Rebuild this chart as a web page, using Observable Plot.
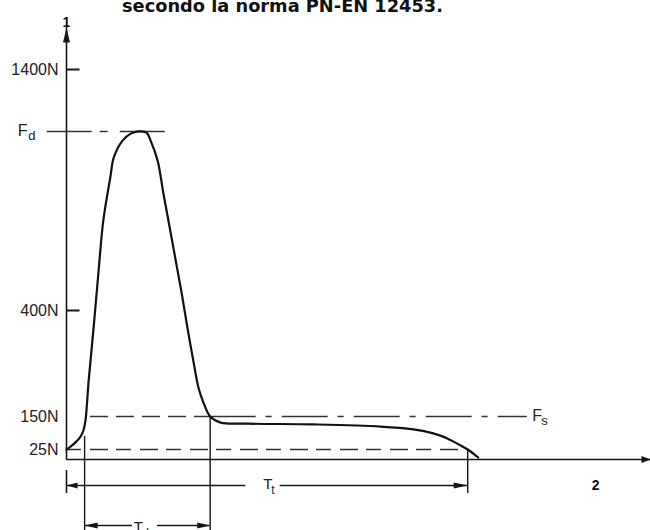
<!DOCTYPE html>
<html><head><meta charset="utf-8">
<script src="https://cdn.jsdelivr.net/npm/d3@7"></script>
<script src="https://cdn.jsdelivr.net/npm/@observablehq/plot@0.6"></script>
<style>
html,body{margin:0;padding:0;background:#fff;}
#wrap{position:relative;width:650px;height:530px;overflow:hidden;background:#fff;}
#wrap svg{position:absolute;left:0;top:0;}
#title{position:absolute;left:122px;top:-3px;font:bold 17.8px "DejaVu Sans";color:#111;white-space:nowrap;line-height:17px;z-index:2;}
</style></head><body>
<div id="wrap"><div id="title">secondo la norma PN-EN 12453.</div></div>
<script>
// force–time curve (time in arbitrary units, force in N)
const time  = [0, 0.7, 1.5, 2.4, 2.9, 3.25, 3.8, 4.6, 5.5, 6.3, 7.5, 8.1, 9.6, 11.0, 12.3, 13.7, 14.4, 15.6, 16.6, 18.3, 19.7, 20.7, 21.8, 22.6, 23.5, 24.6, 26.4, 31.0, 42.3, 53.8, 59.4, 62.8, 65.2, 67.5, 68.7, 70.5];
const force = [25, 36, 51, 74, 97, 135, 235, 353, 566, 773, 952, 1035, 1105, 1134, 1143, 1138, 1105, 1022, 885, 661, 475, 360, 275, 218, 181, 150, 127, 123, 120, 112, 101, 86, 67, 40, 25, 5];

const yTicks = [25, 150, 400, 1400];
const yTickMarks = [400, 1400];
const tickLabel = d => d + "N";
const Fd = 1143, Fs = 150, Fmin = 25;
const tdStart = 3.1, tdEnd = 24.6, ttEnd = 68.7;
const xEnd = 100, yTop = 1574;
const fdFrom = -3.3, fdTo = 17, fsFrom = 4.1, fsEnd = 78.9;
// rows below the time axis for dimension lines (in force units of the schematic)
const ttRow = -65, tdRow = -165, ttBarTop = -27.5, ttBarBot = -85, dimBottom = -180;
const ttLabelT = 33.7, ttGap = [30.7, 36.6];
const tdLabelT = 11.5, tdGap = [11.3, 15.6];
const axisLabels = [{t: 0, f: yTop, s: "1"}, {t: 90.6, f: ttRow, s: "2"}];

// the schematic's force axis is not to scale: piecewise-linear breakpoints
const forceBreaks = [0, 25, 150, 400, 1400];
const drawnHeight = [0, 10, 43, 149, 390];
const squash = d3.scaleLinear().domain(forceBreaks).range(drawnHeight);

const data = time.map((t, i) => ({t, f: force[i]}));

const head = (dir, L, W) => ({draw(ctx) {
  if (dir === "up") { ctx.moveTo(0, 0); ctx.lineTo(-W, L); ctx.lineTo(W, L); ctx.closePath(); }
  if (dir === "right") { ctx.moveTo(0, 0); ctx.lineTo(-L, -W); ctx.lineTo(-L, W); ctx.closePath(); }
  if (dir === "left") { ctx.moveTo(0, 0); ctx.lineTo(L, -W); ctx.lineTo(L, W); ctx.closePath(); }
}});
const hTick = len => ({draw(ctx) { ctx.moveTo(0, 0); ctx.lineTo(len, 0); }});

const ink = "#161616";
const svg = Plot.plot({
  width: 650, height: 530,
  marginLeft: 66, marginRight: 0, marginTop: 0, marginBottom: 0,
  x: {domain: [0, xEnd], range: [66, 650], axis: null},
  y: {transform: squash, domain: [0, 390], range: [459, 69], axis: null},
  style: {fontFamily: "Liberation Sans", background: "#fff", color: "#222"},
  marks: [
    Plot.text(yTicks, {x: 0, y: d => d, text: tickLabel, textAnchor: "end", dx: -8, fontSize: 16, fill: "#222"}),
    Plot.dot(yTickMarks, {x: 0, y: d => d, symbol: hTick(13), stroke: ink, strokeWidth: 2, fill: "none"}),
    // axes
    Plot.ruleX([0], {y1: 0, y2: yTop, stroke: ink, strokeWidth: 1.6}),
    Plot.ruleY([0], {x1: 0, x2: xEnd, stroke: ink, strokeWidth: 1.6}),
    Plot.dot([{t: 0, f: yTop}], {x: "t", y: "f", symbol: head("up", 15, 3.5), fill: ink, stroke: "none"}),
    Plot.dot([{t: xEnd, f: 0}], {x: "t", y: "f", symbol: head("right", 9, 3.5), fill: ink, stroke: "none"}),
    // reference lines
    Plot.ruleY([Fd], {x1: fdFrom, x2: fdTo, stroke: "#333", strokeWidth: 1.5, strokeDasharray: "45,8,8,12"}),
    Plot.ruleY([Fs], {x1: fsFrom, x2: tdEnd, stroke: "#333", strokeWidth: 1.5, strokeDasharray: "18,8"}),
    Plot.ruleY([Fs], {x1: tdEnd, x2: fsEnd, stroke: "#333", strokeWidth: 1.5, strokeDasharray: "46,10,6,10"}),
    Plot.ruleY([Fmin], {x1: 0, x2: ttEnd, stroke: "#333", strokeWidth: 1.5, strokeDasharray: "15,9,18,8"}),
    // vertical markers
    Plot.ruleX([tdStart], {y1: 74, y2: dimBottom, stroke: ink, strokeWidth: 1.4}),
    Plot.ruleX([tdEnd], {y1: Fs, y2: dimBottom, stroke: ink, strokeWidth: 1.4}),
    Plot.ruleX([ttEnd], {y1: Fmin, y2: ttBarBot, stroke: ink, strokeWidth: 1.4}),
    Plot.ruleX([0], {y1: ttBarTop, y2: ttBarBot, stroke: ink, strokeWidth: 1.6}),
    // dimension lines
    Plot.ruleY([ttRow], {x1: 0, x2: ttGap[0], stroke: ink, strokeWidth: 1.4}),
    Plot.ruleY([ttRow], {x1: ttGap[1], x2: ttEnd, stroke: ink, strokeWidth: 1.4}),
    Plot.ruleY([tdRow], {x1: tdStart, x2: tdGap[0], stroke: ink, strokeWidth: 1.4}),
    Plot.ruleY([tdRow], {x1: tdGap[1], x2: tdEnd, stroke: ink, strokeWidth: 1.4}),
    Plot.dot([{t: 0, f: ttRow}], {x: "t", y: "f", symbol: head("left", 11, 3), fill: ink, stroke: "none"}),
    Plot.dot([{t: ttEnd, f: ttRow}], {x: "t", y: "f", symbol: head("right", 14, 3), fill: ink, stroke: "none"}),
    Plot.dot([{t: tdStart, f: tdRow}], {x: "t", y: "f", symbol: head("left", 13, 3), fill: ink, stroke: "none"}),
    Plot.dot([{t: tdEnd, f: tdRow}], {x: "t", y: "f", symbol: head("right", 13, 3), fill: ink, stroke: "none"}),
    // curve
    Plot.line(data, {x: "t", y: "f", curve: "catmull-rom", stroke: "#111", strokeWidth: 2.2}),
    // labels
    Plot.text([Fd], {x: 0, y: d => d, text: () => "F", textAnchor: "end", dx: -39, dy: -1, fontSize: 16, fill: "#222"}),
    Plot.text([Fd], {x: 0, y: d => d, text: () => "d", textAnchor: "end", dx: -31, dy: 4, fontSize: 13, fill: "#222"}),
    Plot.text([Fs], {x: fsEnd, y: d => d, text: () => "F", textAnchor: "start", dx: 5, dy: -1, fontSize: 16, fill: "#222"}),
    Plot.text([Fs], {x: fsEnd, y: d => d, text: () => "s", textAnchor: "start", dx: 14, dy: 4, fontSize: 13, fill: "#222"}),
    Plot.text([ttRow], {x: ttLabelT, y: d => d, text: () => "T", textAnchor: "start", dx: 0, dy: -1, fontSize: 15, fill: "#222"}),
    Plot.text([ttRow], {x: ttLabelT, y: d => d, text: () => "t", textAnchor: "start", dx: 8, dy: 5, fontSize: 12, fill: "#222"}),
    Plot.text([tdRow], {x: tdLabelT, y: d => d, text: () => "T", textAnchor: "start", dx: 0, dy: 2, fontSize: 15, fill: "#222"}),
    Plot.text([tdRow], {x: tdLabelT, y: d => d, text: () => "d", textAnchor: "start", dx: 8, dy: 7, fontSize: 13, fill: "#222"}),
    Plot.text(axisLabels, {x: "t", y: "f", text: "s", lineAnchor: "bottom", dy: -1, fontSize: 14, fontWeight: "bold", fill: "#111", filter: d => d.s === "1"}),
    Plot.text(axisLabels, {x: "t", y: "f", text: "s", fontSize: 14, fontWeight: "bold", fill: "#111", filter: d => d.s === "2"})
  ]
});
document.getElementById("wrap").appendChild(svg);
</script>
</body></html>
